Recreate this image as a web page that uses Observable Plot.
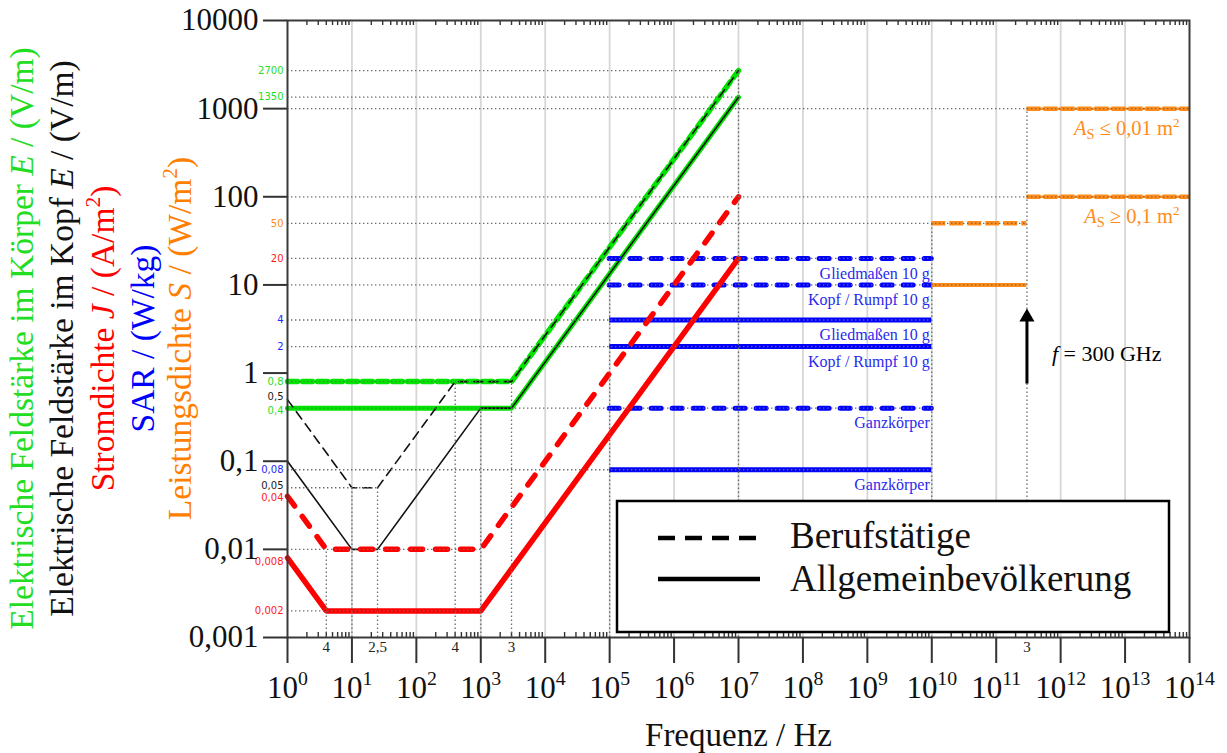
<!DOCTYPE html>
<html><head><meta charset="utf-8">
<script src="https://cdn.jsdelivr.net/npm/d3@7"></script>
<script src="https://cdn.jsdelivr.net/npm/@observablehq/plot@0.6"></script>
<style>body{margin:0;background:#fff}</style>
</head><body><div id="chart"></div>
<script>
// ---------- data ----------
const xTicks = [1, 1e1, 1e2, 1e3, 1e4, 1e5, 1e6, 1e7, 1e8, 1e9, 1e10, 1e11, 1e12, 1e13, 1e14];
const xTickExp = ["0","1","2","3","4","5","6","7","8","9","10","11","12","13","14"];
const yTicks = [0.001, 0.01, 0.1, 1, 10, 100, 1000, 10000];
const yTickLabels = ["0,001", "0,01", "0,1", "1", "10", "100", "1000", "10000"];

// internal E-field in body (green)
const eBodyOccF = [1, 3e3, 1e7];
const eBodyOccV = [0.8, 0.8, 2700];
const eBodyPubF = [1, 3e3, 1e7];
const eBodyPubV = [0.4, 0.4, 1350];
// internal E-field in head (black)
const eHeadOccF = [1, 10, 25, 400, 3e3, 1e7];
const eHeadOccV = [0.5, 0.05, 0.05, 0.8, 0.8, 2700];
const eHeadPubF = [1, 10, 25, 1e3, 3e3, 1e7];
const eHeadPubV = [0.1, 0.01, 0.01, 0.4, 0.4, 1350];
// current density (red)
const jOccF = [1, 4, 1e3, 1e7];
const jOccV = [0.04, 0.01, 0.01, 100];
const jPubF = [1, 4, 1e3, 1e7];
const jPubV = [0.008, 0.002, 0.002, 20];
// SAR (blue)
const sarRange = [1e5, 1e10];
const sarValues = [20, 10, 4, 2, 0.4, 0.08];
const sarDashed = [true, true, false, false, true, false];
const sarLabels = ["Gliedmaßen 10 g", "Kopf / Rumpf 10 g", "Gliedmaßen 10 g", "Kopf / Rumpf 10 g", "Ganzkörper", "Ganzkörper"];
// power density (orange)
const sLowRange = [1e10, 3e11];
const sLowOcc = [50];
const sLowPub = [10];
const sHighRange = [3e11, 1e14];
const sHighValues = [1000, 100];
const sHighLabels = ["*A*_S_ ≤ 0,01 m^2^", "*A*_S_ ≥ 0,1 m^2^"];
// value notes on the y axis
const noteValues = [2700, 1350, 50, 20, 4, 2, 0.8, 0.5, 0.4, 0.08, 0.05, 0.04, 0.008, 0.002];
const noteTexts = ["2700", "1350", "50", "20", "4", "2", "0,8", "0,5", "0,4", "0,08", "0,05", "0,04", "0,008", "0,002"];
const noteKinds = ["E", "E", "S", "J", "SAR", "SAR", "E", "Ek", "E", "SAR", "Ek", "J", "J", "J"];
// frequency notes under the axis
const fNoteF = [4, 25, 400, 3e3, 3e11];
const fNoteT = ["4", "2,5", "4", "3", "3"];
// dotted reference lines
const hRefV = [2700, 1350, 1000, 100, 50, 20, 10, 4, 2, 0.8, 0.4, 0.08, 0.05, 0.01, 0.002];
const hRefEnd = [1e7, 1e7, 1e14, 1e14, 3e11, 1e10, 3e11, 1e10, 1e10, 3e3, 1e10, 1e10, 25, 1e3, 1e3];
const vRefF = [4, 10, 25, 400, 1e3, 3e3, 1e5, 1e7, 1e10, 3e11];
const vRefTop = [0.01, 0.05, 0.05, 0.8, 0.4, 0.8, 20, 2700, 50, 1000];
// 300 GHz arrow
const arrowF = 3e11;
const arrowFrom = 0.75, arrowTo = 4.1, arrowHead = 4.3;
const arrowText = "*f* = 300 GHz";
const arrowTextV = 1.64;
const yTitles = ["Elektrische Feldstärke im Körper *E* / (V/m)", "Elektrische Feldstärke im Kopf *E* / (V/m)", "Stromdichte *J* / (A/m^2^)", "SAR / (W/kg)", "Leistungsdichte *S* / (W/m^2^)"];
const xTitle = "Frequenz / Hz";
const legendLabels = ["Berufstätige", "Allgemeinbevölkerung"];

// ---------- styles ----------
const serif = "'Liberation Serif','Times New Roman',serif";
const sans = "'DejaVu Sans',Verdana,sans-serif";
const GREEN = "#00e400", RED = "#ff0000", BLUE = "#0000ff", ORANGE = "#ff8c1a";
const kindColor = {E: "#1fe01f", Ek: "#222", S: "#ff8c1a", J: "#ff1a1a", SAR: "#2525ff"};
const titleColors = ["#22dd22", "#111", "#ff0000", "#0000ff", "#ff8000"];
const titleX = [22, 62, 103, 143, 180];
const noteShift = {"0,5": -3, "0,4": 3, "0,05": -2, "0,04": 2, "0,008": 4};

const pts = (F, V) => F.map((f, i) => ({f, v: V[i]}));
const minor = [];
for (const d of xTicks.slice(0, -1)) for (let k = 2; k <= 9; k++) minor.push(d * k);
const sarRows = sarValues.map((v, i) => ({v, dashed: sarDashed[i], label: sarLabels[i]}));
const notes = noteValues.map((v, i) => ({v, t: noteTexts[i], c: kindColor[noteKinds[i]], s: noteShift[noteTexts[i]] || 0}));
const hRefs = hRefV.map((v, i) => ({v, end: hRefEnd[i]}));
const vRefs = vRefF.map((f, i) => ({f, top: vRefTop[i]}));
const fNotes = fNoteF.map((f, i) => ({f, t: fNoteT[i]}));
const sHigh = sHighValues.map((v, i) => ({v, label: sHighLabels[i]}));

const W = 1227, H = 753, ML = 287, MR = 38, MT = 20, MB = 116;
const frameH = H - MT - MB;
const dotted = {stroke: "#6a6a6a", strokeWidth: 1.3, strokeDasharray: "1.4,2.6"};

const noteMarks = [-3, -2, 0, 2, 3, 4].map(s => Plot.text(notes.filter(d => d.s === s), {x: () => 1, y: "v", text: "t", fill: "c", dx: -4, dy: s, textAnchor: "end", fontSize: 10, fontFamily: sans}));

const plot = Plot.plot({
  width: W, height: H,
  marginLeft: ML, marginRight: MR, marginTop: MT, marginBottom: MB,
  style: {background: "#fff", color: "#111"},
  x: {type: "log", domain: [1, 1e14], label: null},
  y: {type: "log", domain: [0.001, 10000], label: null},
  color: {type: "identity"},
  marks: [
    // decade grid
    Plot.ruleX(xTicks.slice(1, -1), {stroke: "#d6d6d6", strokeWidth: 1.8}),
    // minor ticks (bottom, up) and (top, down)
    Plot.ruleX(minor, {insetTop: frameH - 5, stroke: "#333", strokeWidth: 1.4}),
    Plot.ruleX(minor, {insetBottom: frameH - 5, stroke: "#333", strokeWidth: 1.4}),
    // green (body)
    Plot.line(pts(eBodyOccF, eBodyOccV), {x: "f", y: "v", stroke: GREEN, strokeWidth: 5.5, strokeDasharray: "10,5"}),
    Plot.line(pts(eBodyPubF, eBodyPubV), {x: "f", y: "v", stroke: GREEN, strokeWidth: 5}),
    // black (head)
    Plot.line(pts(eHeadOccF, eHeadOccV), {x: "f", y: "v", stroke: "#111", strokeWidth: 1.6, strokeDasharray: "9,6"}),
    Plot.line(pts(eHeadPubF, eHeadPubV), {x: "f", y: "v", stroke: "#111", strokeWidth: 1.6}),
    // blue SAR
    Plot.ruleY(sarRows.filter(d => d.dashed), {y: "v", x1: () => sarRange[0], x2: () => sarRange[1], stroke: BLUE, strokeWidth: 5, strokeDasharray: "10,11", strokeLinecap: "round"}),
    Plot.ruleY(sarRows.filter(d => !d.dashed), {y: "v", x1: () => sarRange[0], x2: () => sarRange[1], stroke: BLUE, strokeWidth: 5}),
    // red (current density)
    Plot.line(pts(jOccF, jOccV), {x: "f", y: "v", stroke: RED, strokeWidth: 5.5, strokeDasharray: "12,13", strokeLinecap: "round"}),
    Plot.line(pts(jPubF, jPubV), {x: "f", y: "v", stroke: RED, strokeWidth: 5.5}),
    // orange (power density)
    Plot.ruleY(sLowOcc, {y: d => d, x1: () => sLowRange[0], x2: () => sLowRange[1], stroke: ORANGE, strokeWidth: 4.5, strokeDasharray: "14,4"}),
    Plot.ruleY(sLowPub, {y: d => d, x1: () => sLowRange[0], x2: () => sLowRange[1], stroke: ORANGE, strokeWidth: 4}),
    Plot.ruleY(sHigh, {y: "v", x1: () => sHighRange[0], x2: () => sHighRange[1], stroke: ORANGE, strokeWidth: 2.5}),
    Plot.ruleY(sHigh, {y: "v", x1: () => sHighRange[0], x2: () => sHighRange[1], stroke: ORANGE, strokeWidth: 4.5, strokeDasharray: "14,3"}),
    // dotted reference lines
    Plot.ruleY(hRefs, {y: "v", x1: () => 1, x2: "end", ...dotted}),
    Plot.ruleX(vRefs, {x: "f", y1: () => 0.001, y2: "top", ...dotted}),
    // arrow
    Plot.ruleX([arrowF], {y1: () => arrowFrom, y2: () => arrowTo, stroke: "#000", strokeWidth: 3}),
    Plot.dot([arrowF], {x: d => d, y: () => arrowHead, symbol: "triangle", r: 5.6, fill: "#000", stroke: null}),
    Plot.text([arrowText], {x: () => arrowF, y: () => arrowTextV, text: d => d, dx: 25, textAnchor: "start", fontSize: 22, fontFamily: serif, fill: "#000"}),
    // labels
    Plot.text(sarRows, {x: () => sarRange[1], y: "v", text: "label", dx: -2, dy: 15, textAnchor: "end", fontSize: 16, fontFamily: serif, fill: "#2a2aee"}),
    Plot.text(sHigh, {x: () => sHighRange[1], y: "v", text: "label", dx: -10, dy: 20, textAnchor: "end", fontSize: 20.5, fontFamily: serif, fill: ORANGE}),
    ...noteMarks,
    Plot.text(fNotes, {x: "f", text: "t", frameAnchor: "bottom", dy: 14, fontSize: 15, fontFamily: serif, fill: "#222"}),
    // frame and axes
    Plot.frame({stroke: "#3a3a3a", strokeWidth: 2}),
    Plot.axisY({ticks: yTicks, tickFormat: d => yTickLabels[yTicks.indexOf(d)], tickSize: 24, tickPadding: 5, fontSize: 31, fontFamily: serif, stroke: "#333", strokeWidth: 2, label: null}),
    Plot.axisX({ticks: xTicks, tickFormat: d => "10^" + xTickExp[xTicks.indexOf(d)] + "^", tickSize: 26, tickPadding: 12, fontSize: 31, fontFamily: serif, stroke: "#333", strokeWidth: 2, label: null}),
    // axis titles
    ...yTitles.map((t, i) => Plot.text([t], {frameAnchor: "left", dx: titleX[i] - ML, dy: 338 - (MT + frameH / 2), rotate: -90, text: d => d, textAnchor: "middle", lineAnchor: "middle", fontSize: 33.5, fontFamily: serif, fill: titleColors[i]})),
    Plot.text([xTitle], {frameAnchor: "bottom", dy: 98, text: d => d, lineAnchor: "middle", fontSize: 33, fontFamily: serif, fill: "#111"})
  ]
});

document.getElementById("chart").appendChild(plot);

// legend
const svg = d3.select(plot);
const lg = svg.append("g").attr("font-family", serif).attr("text-anchor", "start");
lg.append("rect").attr("x", 617).attr("y", 501).attr("width", 552).attr("height", 131)
  .attr("fill", "#fff").attr("stroke", "#000").attr("stroke-width", 2.5);
lg.append("line").attr("x1", 658).attr("x2", 756).attr("y1", 538).attr("y2", 538)
  .attr("stroke", "#000").attr("stroke-width", 4.5).attr("stroke-dasharray", "17,10");
lg.append("line").attr("x1", 658).attr("x2", 760).attr("y1", 579).attr("y2", 579)
  .attr("stroke", "#000").attr("stroke-width", 4.5);
lg.append("text").attr("x", 790).attr("y", 548).attr("font-size", 37).attr("fill", "#111").text(legendLabels[0]);
lg.append("text").attr("x", 790).attr("y", 591).attr("font-size", 37).attr("fill", "#111").text(legendLabels[1]);

// rich text: *italic*, ^superscript^, _subscript_
const NS = "http://www.w3.org/2000/svg";
plot.querySelectorAll("text").forEach(el => {
  const s = el.textContent;
  if (!/[*^_]/.test(s)) return;
  const fs = parseFloat(getComputedStyle(el).fontSize) || 16;
  const parts = s.split(/(\*[^*]+\*|\^[^^]+\^|_[^_]+_)/).filter(p => p);
  while (el.firstChild) el.removeChild(el.firstChild);
  let cur = 0;
  for (const p of parts) {
    const t = document.createElementNS(NS, "tspan");
    let txt = p, shift = 0;
    if (p[0] === "*" && p.length > 2) { txt = p.slice(1, -1); t.setAttribute("font-style", "italic"); }
    else if (p[0] === "^" && p.length > 2) { txt = p.slice(1, -1); shift = -0.42 * fs; t.setAttribute("font-size", (0.64 * fs) + "px"); }
    else if (p[0] === "_" && p.length > 2) { txt = p.slice(1, -1); shift = 0.2 * fs; t.setAttribute("font-size", (0.7 * fs) + "px"); }
    if (shift !== cur) t.setAttribute("dy", (shift - cur) + "px");
    cur = shift;
    t.textContent = txt;
    el.appendChild(t);
  }
});
</script></body></html>
